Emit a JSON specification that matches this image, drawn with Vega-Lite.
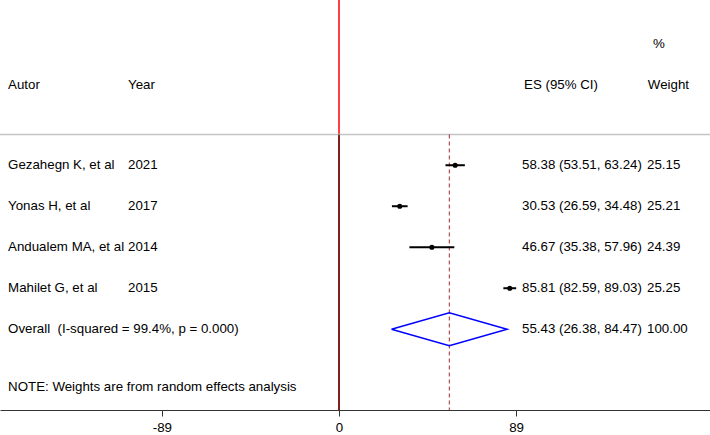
{
  "$schema": "https://vega.github.io/schema/vega-lite/v6.json",
  "width": 710,
  "height": 410,
  "autosize": {"type": "none"},
  "padding": {"left": 0, "top": 0, "right": 0, "bottom": 25},
  "background": "white",
  "config": {
    "view": {"stroke": null},
    "text": {"font": "Liberation Sans", "fontSize": 13.3, "fill": "#000000", "align": "left", "baseline": "middle"},
    "axisX": {"grid": false, "domainColor": "#333333", "domainWidth": 1.2, "tickColor": "#333333", "tickSize": 6, "labelFont": "Liberation Sans", "labelFontSize": 13.3, "labelColor": "#000000", "labelPadding": 4, "labelFlush": false, "labelExpr": "'' + datum.value"}
  },
  "datasets": {
    "studies": [
      {"study": "Gezahegn K, et al", "year": "2021", "es": 58.38, "lo": 53.51, "hi": 63.24, "ci": "58.38 (53.51, 63.24)", "weight": "25.15", "row": 1, "kind": "study"},
      {"study": "Yonas H, et al", "year": "2017", "es": 30.53, "lo": 26.59, "hi": 34.48, "ci": "30.53 (26.59, 34.48)", "weight": "25.21", "row": 2, "kind": "study"},
      {"study": "Andualem MA, et al", "year": "2014", "es": 46.67, "lo": 35.38, "hi": 57.96, "ci": "46.67 (35.38, 57.96)", "weight": "24.39", "row": 3, "kind": "study"},
      {"study": "Mahilet G, et al", "year": "2015", "es": 85.81, "lo": 82.59, "hi": 89.03, "ci": "85.81 (82.59, 89.03)", "weight": "25.25", "row": 4, "kind": "study"},
      {"study": "Overall\u00a0 (I-squared = 99.4%, p = 0.000)", "year": "", "es": 55.43, "lo": 26.38, "hi": 84.47, "ci": "55.43 (26.38, 84.47)", "weight": "100.00", "row": 5, "kind": "overall"}
    ],
    "diamond": [
      {"dx": 26.38, "dy": 5, "o": 1},
      {"dx": 55.43, "dy": 4.6, "o": 2},
      {"dx": 84.47, "dy": 5, "o": 3},
      {"dx": 55.43, "dy": 5.4, "o": 4},
      {"dx": 26.38, "dy": 5, "o": 5}
    ],
    "one": [{}]
  },
  "layer": [
    {
      "data": {"name": "one"},
      "mark": {"type": "rule", "color": "#ff0000", "strokeWidth": 1.5},
      "encoding": {
        "x": {"datum": 0, "type": "quantitative", "scale": {"domain": [-170.35, 186.43], "nice": false, "zero": false}, "axis": {"values": [-89, 0, 89], "title": null}},
        "y": {"datum": -3.03, "type": "quantitative", "scale": {"domain": [-3.03, 6.97], "reverse": true, "nice": false, "zero": false}, "axis": null},
        "y2": {"datum": 6.97}
      }
    },
    {
      "data": {"name": "one"},
      "mark": {"type": "rule", "color": "#c4c4c4", "strokeWidth": 1.5},
      "encoding": {
        "x": {"datum": -170.35, "type": "quantitative", "axis": {"values": [-89, 0, 89], "title": null}},
        "x2": {"datum": 186.43},
        "y": {"datum": 0.25, "type": "quantitative", "axis": null}
      }
    },
    {
      "data": {"name": "one"},
      "mark": {"type": "rule", "color": "#000000", "strokeWidth": 1},
      "encoding": {
        "x": {"datum": 0, "type": "quantitative", "axis": {"values": [-89, 0, 89], "title": null}},
        "y": {"datum": 0.25, "type": "quantitative", "axis": null},
        "y2": {"datum": 6.97}
      }
    },
    {
      "data": {"name": "studies"},
      "transform": [{"filter": "datum.kind === 'overall'"}],
      "mark": {"type": "rule", "color": "#a52a2a", "strokeWidth": 1, "strokeDash": [4, 3]},
      "encoding": {
        "x": {"field": "es", "type": "quantitative", "axis": {"values": [-89, 0, 89], "title": null}},
        "y": {"datum": 0.25, "type": "quantitative", "axis": null},
        "y2": {"datum": 6.97}
      }
    },
    {
      "data": {"name": "studies"},
      "transform": [{"filter": "datum.kind === 'study'"}],
      "mark": {"type": "rule", "color": "#000000", "strokeWidth": 2},
      "encoding": {
        "x": {"field": "lo", "type": "quantitative", "axis": {"values": [-89, 0, 89], "title": null}},
        "x2": {"field": "hi"},
        "y": {"field": "row", "type": "quantitative", "axis": null}
      }
    },
    {
      "data": {"name": "studies"},
      "transform": [{"filter": "datum.kind === 'study'"}],
      "mark": {"type": "point", "shape": "circle", "filled": true, "color": "#000000", "size": 26, "opacity": 1},
      "encoding": {
        "x": {"field": "es", "type": "quantitative", "axis": {"values": [-89, 0, 89], "title": null}},
        "y": {"field": "row", "type": "quantitative", "axis": null}
      }
    },
    {
      "data": {"name": "diamond"},
      "mark": {"type": "line", "color": "#0000ff", "strokeWidth": 1.5, "strokeJoin": "miter"},
      "encoding": {
        "x": {"field": "dx", "type": "quantitative", "axis": {"values": [-89, 0, 89], "title": null}},
        "y": {"field": "dy", "type": "quantitative", "axis": null},
        "order": {"field": "o", "type": "quantitative"}
      }
    },
    {
      "data": {"name": "studies"},
      "mark": {"type": "text"},
      "encoding": {
        "x": {"datum": -166.3, "type": "quantitative", "axis": {"values": [-89, 0, 89], "title": null}},
        "y": {"field": "row", "type": "quantitative", "axis": null},
        "text": {"field": "study"}
      }
    },
    {
      "data": {"name": "studies"},
      "mark": {"type": "text"},
      "encoding": {
        "x": {"datum": -106, "type": "quantitative", "axis": {"values": [-89, 0, 89], "title": null}},
        "y": {"field": "row", "type": "quantitative", "axis": null},
        "text": {"field": "year"}
      }
    },
    {
      "data": {"name": "studies"},
      "mark": {"type": "text"},
      "encoding": {
        "x": {"datum": 92, "type": "quantitative", "axis": {"values": [-89, 0, 89], "title": null}},
        "y": {"field": "row", "type": "quantitative", "axis": null},
        "text": {"field": "ci"}
      }
    },
    {
      "data": {"name": "studies"},
      "mark": {"type": "text"},
      "encoding": {
        "x": {"datum": 154.8, "type": "quantitative", "axis": {"values": [-89, 0, 89], "title": null}},
        "y": {"field": "row", "type": "quantitative", "axis": null},
        "text": {"field": "weight"}
      }
    },
    {
      "data": {"name": "one"},
      "mark": {"type": "text"},
      "encoding": {
        "x": {"datum": -166.3, "type": "quantitative", "axis": {"values": [-89, 0, 89], "title": null}},
        "y": {"datum": -0.95, "type": "quantitative", "axis": null},
        "text": {"value": "Autor"}
      }
    },
    {
      "data": {"name": "one"},
      "mark": {"type": "text"},
      "encoding": {
        "x": {"datum": -106, "type": "quantitative", "axis": {"values": [-89, 0, 89], "title": null}},
        "y": {"datum": -0.95, "type": "quantitative", "axis": null},
        "text": {"value": "Year"}
      }
    },
    {
      "data": {"name": "one"},
      "mark": {"type": "text"},
      "encoding": {
        "x": {"datum": 93, "type": "quantitative", "axis": {"values": [-89, 0, 89], "title": null}},
        "y": {"datum": -0.95, "type": "quantitative", "axis": null},
        "text": {"value": "ES (95% CI)"}
      }
    },
    {
      "data": {"name": "one"},
      "mark": {"type": "text"},
      "encoding": {
        "x": {"datum": 155.2, "type": "quantitative", "axis": {"values": [-89, 0, 89], "title": null}},
        "y": {"datum": -0.95, "type": "quantitative", "axis": null},
        "text": {"value": "Weight"}
      }
    },
    {
      "data": {"name": "one"},
      "mark": {"type": "text"},
      "encoding": {
        "x": {"datum": 157.8, "type": "quantitative", "axis": {"values": [-89, 0, 89], "title": null}},
        "y": {"datum": -1.95, "type": "quantitative", "axis": null},
        "text": {"value": "%"}
      }
    },
    {
      "data": {"name": "one"},
      "mark": {"type": "text"},
      "encoding": {
        "x": {"datum": -166.3, "type": "quantitative", "axis": {"values": [-89, 0, 89], "title": null}},
        "y": {"datum": 6.4, "type": "quantitative", "axis": null},
        "text": {"value": "NOTE: Weights are from random effects analysis"}
      }
    }
  ]
}
